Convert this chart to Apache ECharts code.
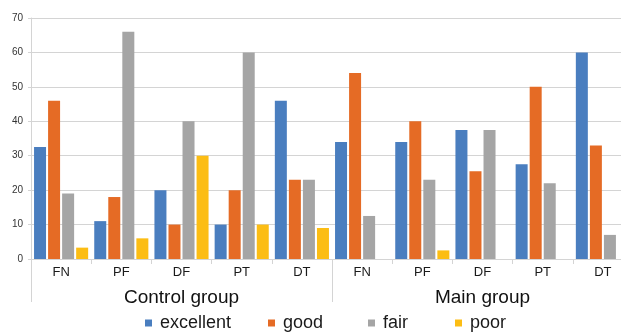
<!DOCTYPE html>
<html>
<head>
<meta charset="utf-8">
<script src="https://cdn.jsdelivr.net/npm/echarts@6/dist/echarts.min.js"></script>
<style>
  html, body { margin: 0; padding: 0; background: #fff; overflow: hidden; }
  /* plot runs past the right edge, like the reference crop */
  #chart { width: 640px; height: 335px; }
</style>
</head>
<body>
<div id="chart"></div>
<script>
var categories = ["FN", "PF", "DF", "PT", "DT", "FN", "PF", "DF", "PT", "DT"];
var groups = ["Control group", "Main group"];
var seriesNames = ["excellent", "good", "fair", "poor"];

var excellent = [32.5, 11, 20, 10, 46, 34, 34, 37.5, 27.5, 60];
var good = [46, 18, 10, 20, 23, 54, 40, 25.5, 50, 33];
var fair = [19, 66, 40, 60, 23, 12.5, 23, 37.5, 22, 7];
var poor = [3.3, 6, 30, 10, 9, 0, 2.5, 0, 0, 0];

var colors = ["#4a7ebf", "#e56b25", "#a5a5a5", "#fcbd14"];
var legendLeft = [145, 268, 368, 455];

var chart = echarts.init(document.getElementById("chart"));

var values = [excellent, good, fair, poor];
var series = seriesNames.map(function (name, i) {
  return {
    name: name,
    type: "bar",
    barWidth: 12,
    barGap: "17%",
    data: values[i],
    itemStyle: { color: colors[i] },
  };
});

chart.setOption({
  animation: false,
  textStyle: { fontFamily: "Liberation Sans, Arial, sans-serif" },
  grid: { left: 31, right: 7, top: 18, bottom: 76 },
  legend: seriesNames.map(function (name, i) {
    return {
      data: [name],
      left: legendLeft[i],
      top: 314,
      padding: 0,
      icon: "rect",
      itemWidth: 7,
      itemHeight: 7,
      textStyle: { fontSize: 18, color: "#1a1a1a", padding: [0, 0, 0, 3] },
    };
  }),
  xAxis: [
    {
      type: "category",
      data: categories,
      axisLine: { lineStyle: { color: "#d4d4d4" } },
      axisTick: { show: true, length: 5, lineStyle: { color: "#d4d4d4" } },
      axisLabel: { fontSize: 13, color: "#1a1a1a", margin: 7 },
    },
    {
      type: "category",
      data: groups,
      position: "bottom",
      axisLine: { show: false },
      axisTick: { show: true, length: 43, lineStyle: { color: "#d4d4d4" } },
      axisLabel: { fontSize: 19, color: "#111", margin: 29 },
    },
  ],
  yAxis: {
    type: "value",
    min: 0,
    max: 70,
    interval: 10,
    axisLine: { show: true, lineStyle: { color: "#d4d4d4" } },
    axisTick: { show: true, length: 3, lineStyle: { color: "#d4d4d4" } },
    splitLine: { lineStyle: { color: "#d4d4d4" } },
    axisLabel: { fontSize: 10, color: "#333", margin: 8 },
  },
  series: series,
});
</script>
</body>
</html>
